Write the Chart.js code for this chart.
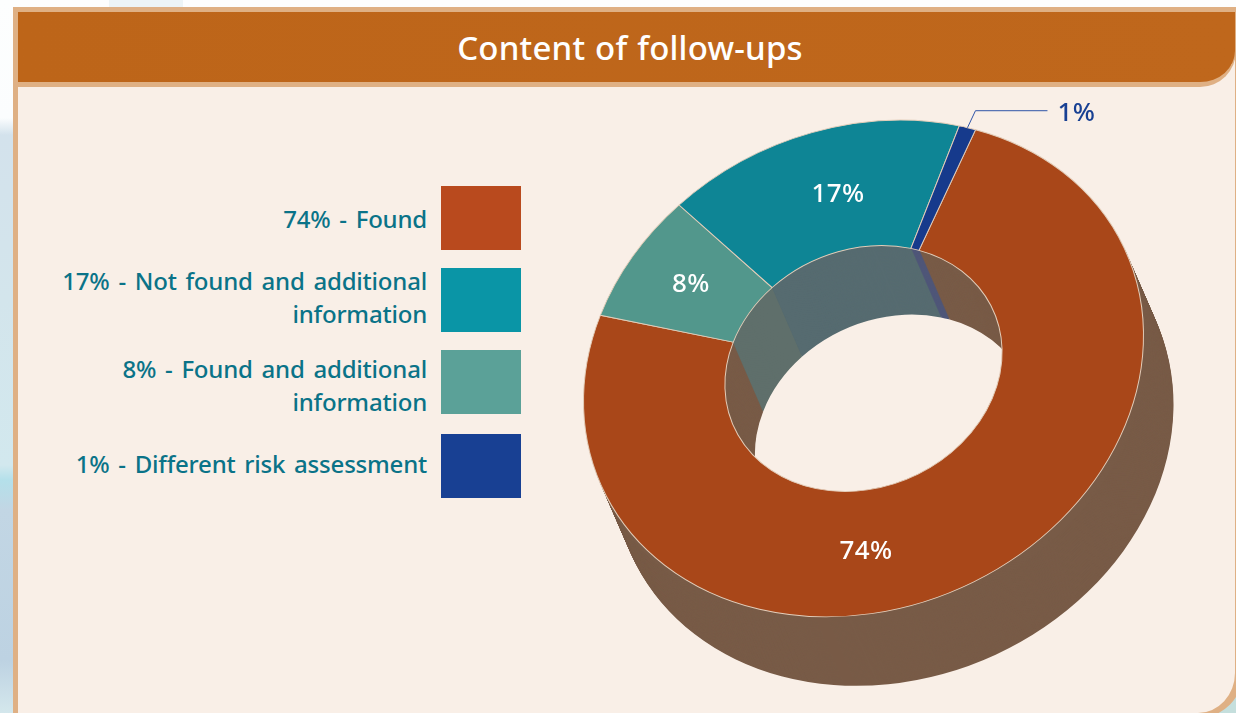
<!DOCTYPE html>
<html>
<head>
<meta charset="utf-8">
<title>Content of follow-ups</title>
<script src="https://cdn.jsdelivr.net/npm/chart.js@4/dist/chart.umd.min.js"></script>
<style>
    html, body { margin: 0; padding: 0; }
    body {
        width: 1236px; height: 713px; overflow: hidden; position: relative;
        font-family: "Noto Sans", sans-serif;
        background: linear-gradient(180deg, #fdfefe 0, #fbfdfe 118px, #d3e2ec 135px, #d3e5ec 300px, #d2e8ee 465px, #b4e0ea 480px, #c2d6e4 510px, #bdd2e2 660px, #d4e7ec 713px);
    }
    #patch { position: absolute; left: 109px; top: 0; width: 74px; height: 8px; background: #edf4f6; }
    #corner { position: absolute; right: 0; bottom: 0; width: 60px; height: 60px; background: #c5dfdd; }
    #panel {
        position: absolute; left: 13px; top: 7px; width: 1230px; height: 711px;
        box-sizing: border-box; border: 5px solid #dfb084; border-radius: 0 0 45px 0;
        border-width: 5px 8px 5px 5px;
        background: #f9efe7;
    }
    #header {
        position: absolute; left: 18px; top: 12px; width: 1218px; height: 75px;
        box-sizing: border-box; border-bottom: 5px solid #dfb084; border-right: 1px solid #dfb084;
        border-radius: 0 0 36px 0;
        background: linear-gradient(90deg, #bd6519, #bf671c);
        color: #fff; font-size: 33px; font-weight: 500; line-height: 72px; text-align: center;
        padding-left: 7px; letter-spacing: 0.2px; word-spacing: 1px;
    }
    #legend div { position: absolute; }
    .swatch { left: 441px; width: 80px; height: 64px; }
    .legendText { left: 20px; width: 407px; text-align: right; color: #0a7388; font-size: 24px; font-weight: 500; line-height: 33px; letter-spacing: -0.2px; word-spacing: 2.8px; }
    canvas { position: absolute; left: 0; top: 0; }
</style>
</head>
<body>
<div id="patch"></div>
<div id="corner"></div>
<div id="panel"></div>
<div id="header">Content of follow-ups</div>
<div id="legend"></div>
<canvas id="followUpChart" width="1236" height="713"></canvas>

<script>
// slices go clockwise from the top
const categories = ['Found', 'Found and additional information', 'Not found and additional information', 'Different risk assessment'];
const values = [74, 8, 17, 1];
const legendOrder = [0, 2, 1, 3];
const legendLines = [
    ['74% - Found'],
    ['8% - Found and additional', 'information'],
    ['17% - Not found and additional', 'information'],
    ['1% - Different risk assessment']
];
const topColors = ['#a94719', '#52978c', '#0e8595', '#163a8c'];
const wallColors = ['#785b47', '#5f6f6b', '#566b70', '#4f5678'];
const legendColors = ['#b94a1e', '#5ba198', '#0a95a6', '#184093'];

// legend rows, same order as legendOrder
const swatchTops = [186, 268, 350, 434];
const textTops = [202, 264, 352, 447];

const legend = document.getElementById('legend');
legendOrder.forEach((idx, row) => {
    const swatch = document.createElement('div');
    swatch.className = 'swatch';
    swatch.style.top = swatchTops[row] + 'px';
    swatch.style.background = legendColors[idx];
    legend.appendChild(swatch);

    const text = document.createElement('div');
    text.className = 'legendText';
    text.style.top = textTops[row] + 'px';
    text.innerHTML = legendLines[idx].join('<br>');
    legend.appendChild(text);
});

// the ring is a tilted disc: squashed, sheared, then pushed down for the side wall
const shearY = -33 / 280.5;
const scaleY = 246.6 / 280.5;
const depthX = 30;
const depthY = 69;

function tilt(ctx, cx, cy) {
    ctx.translate(cx, cy);
    ctx.transform(1, shearY, 0, scaleY, 0, 0);
    ctx.translate(-cx, -cy);
}

function tiltPoint(cx, cy, x, y) {
    return { x: cx + (x - cx), y: cy + shearY * (x - cx) + scaleY * (y - cy) };
}

const ringPlugin = {
    id: 'ring',
    beforeDatasetsDraw(chart) {
        const ctx = chart.ctx;
        const arcs = chart.getDatasetMeta(0).data;
        const cx = arcs[0].x;
        const cy = arcs[0].y;

        // side wall, back to front
        for (let s = depthY; s >= 1; s--) {
            ctx.save();
            ctx.translate(depthX * s / depthY, s);
            tilt(ctx, cx, cy);
            arcs.forEach((arc, i) => {
                ctx.beginPath();
                ctx.arc(cx, cy, arc.outerRadius, arc.startAngle, arc.endAngle);
                ctx.arc(cx, cy, arc.innerRadius, arc.endAngle, arc.startAngle, true);
                ctx.closePath();
                ctx.fillStyle = wallColors[i];
                ctx.fill();
            });
            ctx.restore();
        }

        ctx.save();
        tilt(ctx, cx, cy);
    },
    afterDatasetsDraw(chart) {
        const ctx = chart.ctx;
        ctx.restore();

        const arcs = chart.getDatasetMeta(0).data;
        const cx = arcs[0].x;
        const cy = arcs[0].y;
        const nudges = [[-80, 24], [0, 0], [13, 2]];

        ctx.save();
        ctx.font = '500 26px "Noto Sans", sans-serif';
        ctx.letterSpacing = '0.4px';
        ctx.textAlign = 'center';
        ctx.textBaseline = 'middle';
        ctx.fillStyle = '#ffffff';
        arcs.slice(0, 3).forEach((arc, i) => {
            const c = arc.getCenterPoint();
            const p = tiltPoint(cx, cy, c.x, c.y);
            ctx.fillText(values[i] + '%', p.x + nudges[i][0], p.y + nudges[i][1]);
        });

        // small slice gets a leader line
        const last = arcs[3];
        const mid = (last.startAngle + last.endAngle) / 2;
        const start = tiltPoint(cx, cy, cx + Math.cos(mid) * last.outerRadius, cy + Math.sin(mid) * last.outerRadius);
        ctx.strokeStyle = '#2f55a8';
        ctx.lineWidth = 1;
        ctx.beginPath();
        ctx.moveTo(start.x, start.y);
        ctx.lineTo(start.x + 8, start.y - 17);
        ctx.lineTo(start.x + 80, start.y - 17);
        ctx.stroke();
        ctx.fillStyle = legendColors[3];
        ctx.textAlign = 'left';
        ctx.fillText(values[3] + '%', start.x + 90, start.y - 14);
        ctx.restore();
    }
};

new Chart(document.getElementById('followUpChart').getContext('2d'), {
    type: 'doughnut',
    plugins: [ringPlugin],
    data: {
        labels: categories,
        datasets: [
            {
                data: values,
                backgroundColor: topColors,
                borderColor: '#e3cdb9',
                borderWidth: 1,
                clip: false
            }
        ]
    },
    options: {
        responsive: false,
        animation: false,
        cutout: '49.5%',
        rotation: 23.6,
        layout: { padding: { left: 583, right: 92, top: 88, bottom: 64 } },
        plugins: {
            legend: { display: false },
            title: { display: false }
        }
    }
});
</script>
</body>
</html>
